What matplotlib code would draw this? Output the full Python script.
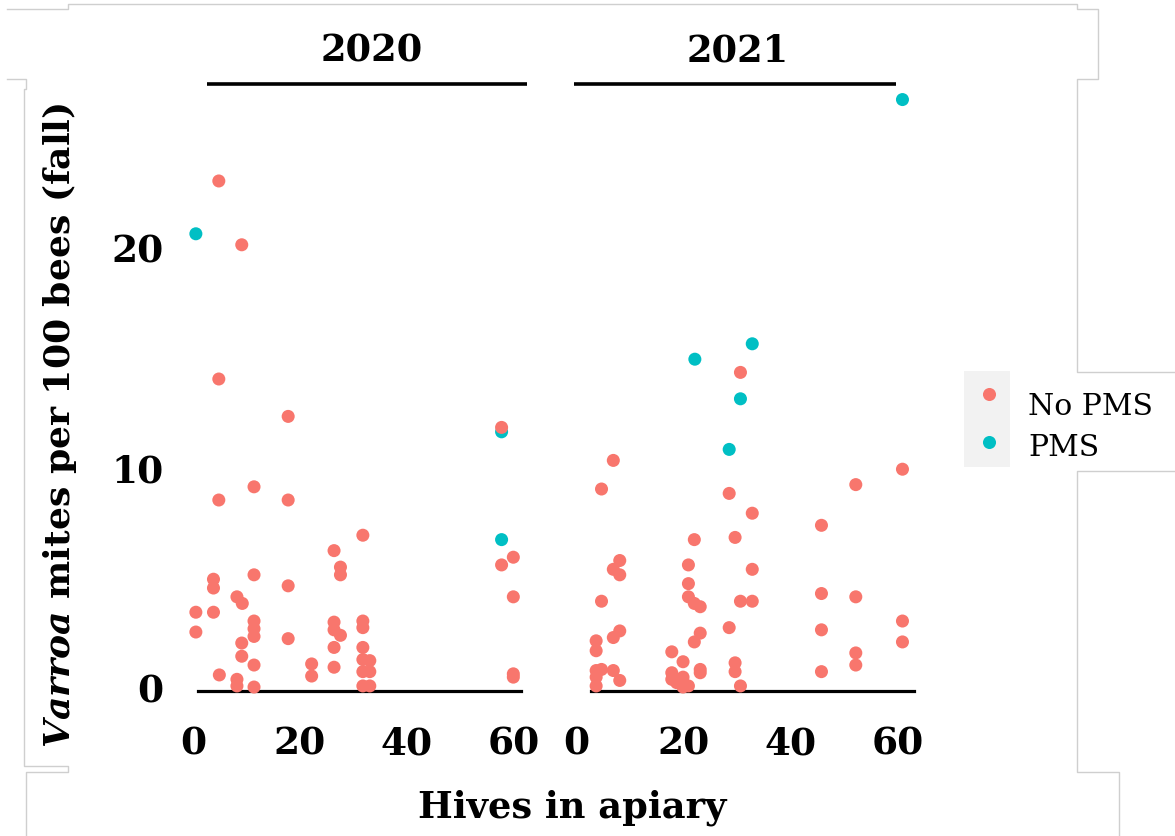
import matplotlib
matplotlib.use("Agg")
import matplotlib.pyplot as plt
from matplotlib.lines import Line2D
from matplotlib.patches import Rectangle

W, H = 1175, 837
plt.rcParams['font.family'] = 'DejaVu Serif'
plt.rcParams['mathtext.fontset'] = 'custom'
plt.rcParams['mathtext.it'] = 'DejaVu Serif:italic:bold'
plt.rcParams['mathtext.rm'] = 'DejaVu Serif:bold'

# ---------------- data ----------------
years = ['2020', '2021']
groups = ['No PMS', 'PMS']
group_colors = ['#F8766D', '#00BFC4']
x_ticks = [0, 20, 40, 60]
y_ticks = [0, 10, 20]

hives_2020_nopms = [4.8, 9.1, 4.8, 17.8, 57.8, 4.8, 11.4, 17.8, 31.8, 26.4,
                    27.6, 27.6, 3.8, 3.8, 11.4, 17.8, 8.2, 9.2, 0.5, 3.8,
                    0.5, 11.4, 11.4, 11.4, 26.4, 26.4, 27.6, 31.8, 31.8, 17.8,
                    9.1, 9.1, 26.4, 26.4, 11.4, 22.2, 22.2, 31.8, 31.8, 33.1,
                    31.8, 33.1, 31.8, 33.1, 4.9, 8.2, 8.2, 11.4, 60.0, 57.8,
                    60.0, 60.0, 60.0]
mites_2020_nopms = [23.0, 20.1, 14.0, 12.3, 11.8, 8.5, 9.1, 8.5, 6.9, 6.2,
                    5.45, 5.1, 4.9, 4.5, 5.1, 4.6, 4.1, 3.8, 3.4, 3.4,
                    2.5, 3.0, 2.65, 2.3, 2.95, 2.6, 2.35, 3.0, 2.7, 2.2,
                    2.0, 1.4, 1.8, 0.9, 1.0, 1.05, 0.5, 1.8, 1.25, 1.2,
                    0.7, 0.7, 0.05, 0.05, 0.55, 0.35, 0.05, 0.0, 5.9, 5.55,
                    4.1, 0.6, 0.45]
hives_2020_pms = [0.5, 57.8, 57.8]
mites_2020_pms = [20.6, 11.6, 6.7]

hives_2021_nopms = [30.6, 6.9, 60.8, 4.7, 52.1, 28.5, 32.8, 45.7, 22.0, 29.6,
                    8.1, 6.9, 8.1, 20.9, 20.9, 32.8, 4.7, 45.7, 52.1, 20.9,
                    22.0, 23.1, 30.6, 32.8, 28.5, 45.7, 60.8, 60.8, 8.1, 6.9,
                    23.1, 22.0, 3.7, 3.7, 17.8, 19.9, 52.1, 52.1, 29.6, 29.6,
                    45.7, 23.1, 23.1, 3.7, 4.7, 6.9, 3.7, 8.1, 3.7, 17.8,
                    17.8, 19.9, 18.7, 20.9, 19.9, 30.6]
mites_2021_nopms = [14.3, 10.3, 9.9, 9.0, 9.2, 8.8, 7.9, 7.35, 6.7, 6.8,
                    5.75, 5.35, 5.1, 5.55, 4.7, 5.35, 3.9, 4.25, 4.1, 4.1,
                    3.8, 3.65, 3.9, 3.9, 2.7, 2.6, 3.0, 2.05, 2.55, 2.25,
                    2.45, 2.05, 2.1, 1.65, 1.6, 1.15, 1.55, 1.0, 1.1, 0.7,
                    0.7, 0.8, 0.65, 0.75, 0.8, 0.75, 0.45, 0.3, 0.05, 0.65,
                    0.35, 0.45, 0.2, 0.05, 0.0, 0.05]
hives_2021_pms = [22.1, 32.8, 30.6, 28.5, 60.8]
mites_2021_pms = [14.9, 15.6, 13.1, 10.8, 26.7]

panels = {
    '2020': {'No PMS': (hives_2020_nopms, mites_2020_nopms),
             'PMS': (hives_2020_pms, mites_2020_pms)},
    '2021': {'No PMS': (hives_2021_nopms, mites_2021_nopms),
             'PMS': (hives_2021_pms, mites_2021_pms)},
}

# ---------------- layout helpers (pixel -> figure fraction) ----------------
def fx(px):
    return px / W


def fy(py):
    return 1 - py / H


fig = plt.figure(figsize=(W / 100, H / 100), dpi=100)
fig.patch.set_facecolor('white')

ax_top, ax_bot = 90, 692
ylim = (-0.18, 27.18)
panel_boxes = {'2020': (180, 540, (-2.474, 65.0), (0.9, 61.44)),
               '2021': (570, 925, (-1.174, 65.0), (2.74, 62.94))}
strip_spans = {'2020': (207, 527, 372), '2021': (574, 896, 738)}

axes = []
for i, yr in enumerate(years):
    left, right, xlim, bounds = panel_boxes[yr]
    ax = fig.add_axes([fx(left), fy(ax_bot), (right - left) / W,
                       (ax_bot - ax_top) / H])
    for g, c in zip(groups[::-1], group_colors[::-1]):
        xs, ys = panels[yr][g]
        ax.scatter(xs, ys, s=88, color=c, edgecolors='none', clip_on=False,
                   zorder=3)
    ax.set_xlim(*xlim)
    ax.set_ylim(*ylim)
    ax.set_facecolor('none')
    for side in ('top', 'right', 'left'):
        ax.spines[side].set_visible(False)
    ax.spines['bottom'].set_bounds(*bounds)
    ax.spines['bottom'].set_linewidth(2.3)
    ax.spines['bottom'].set_color('black')
    ax.set_xticks(x_ticks)
    ax.set_xticklabels([str(t) for t in x_ticks], fontsize=27,
                       fontweight='bold')
    ax.tick_params(axis='x', length=0, pad=24)
    if i == 0:
        ax.set_yticks(y_ticks)
        ax.set_yticklabels([str(t) for t in y_ticks], fontsize=27,
                           fontweight='bold')
        ax.tick_params(axis='y', length=0, pad=12)
    else:
        ax.set_yticks([])
    axes.append(ax)

    # facet strip: year label above a rule
    x0, x1, xc = strip_spans[yr]
    fig.add_artist(Line2D([fx(x0), fx(x1)], [fy(85), fy(85)], color='black',
                          lw=2.6, solid_capstyle='butt'))
    fig.text(fx(xc), fy(61), yr, ha='center', va='baseline', fontsize=26.5,
             fontweight='bold')

# axis titles
fig.text(fx(572), fy(818), 'Hives in apiary', ha='center', va='baseline',
         fontsize=26.5, fontweight='bold')
fig.text(fx(60), fy(425), r'$\mathit{Varroa}$ mites per 100 bees (fall)',
         rotation=90, ha='center', va='center', fontsize=26,
         fontweight='bold')

# legend
fig.add_artist(Rectangle((fx(964), fy(468)), (1010 - 964) / W,
                         (468 - 372) / H, facecolor='#F2F2F2',
                         edgecolor='none', transform=fig.transFigure))
for g, c, ym, yb in zip(groups, group_colors, (395, 443), (415, 456)):
    fig.add_artist(Line2D([fx(989)], [fy(ym)], marker='o', markersize=9.4,
                          color=c, markeredgewidth=0, linestyle='none'))
    fig.text(fx(1028), fy(yb), g, ha='left', va='baseline', fontsize=21.5)

# light grey page frame
frame_paths = [
    [(7, 10), (68, 10), (68, 5), (1077, 5), (1077, 10), (1098, 10),
     (1098, 80), (1077, 80), (1077, 373), (1175, 373)],
    [(1175, 472), (1077, 472), (1077, 773), (1119, 773), (1119, 837)],
    [(7, 80), (26, 80), (26, 90), (24, 90), (24, 767), (68, 767),
     (68, 773), (26, 773), (26, 837)],
]
for path in frame_paths:
    xs = [fx(p[0]) for p in path]
    ys = [fy(p[1]) for p in path]
    fig.add_artist(Line2D(xs, ys, color='#CFCFCF', lw=1.0))

fig.savefig('out.png', dpi=100, facecolor='white')
